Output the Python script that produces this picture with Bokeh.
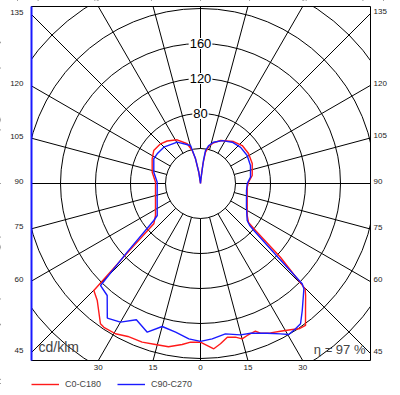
import numpy as np
from bokeh.plotting import figure
from bokeh.models import Label, Legend, LegendItem, Range1d
from bokeh.embed import file_html
from bokeh.resources import INLINE

# ---- data (cd/klm, gamma angle measured from nadir) ----
RINGS = [40, 80, 120, 160, 200, 240, 280, 320]
RING_LABELS = [80, 120, 160]
SPOKES = list(range(0, 360, 15))
SIDE_TICKS = [135, 120, 105, 90, 75, 60, 45]
BOTTOM_TICKS = [-30, -15, 0, 15, 30]

C0_GAMMA = [0, 1.2, 4.6, 7.1, 9.9, 12.8, 15, 17.1, 20.4, 21.8, 25.1, 28.4, 31.6, 34.1,
            36.5, 39.6, 43.2, 44.8, 47.3, 49.5, 50.9, 55.6, 70, 85.5, 91.6, 98.8,
            111.1, 122, 132.3, 141.8, 155, 162, 167, 171, 173, 175, 180]
C0_I = [181.4, 183.2, 189.5, 184.6, 178.3, 180.1, 183.8, 181.7, 180.1, 184.3, 188.5, 192,
        196.3, 200.5, 201.8, 188.3, 175.5, 169.7, 124.3, 82.7, 70.7, 64.7, 56.8, 53.6,
        54.9, 59.8, 63.4, 64.7, 64.5, 61.0, 54.2, 49.0, 44.0, 36.0, 22.0, 5.0, 0]

C180_GAMMA = [0, 3.6, 6.5, 11.1, 15.6, 20.2, 25.4, 29.5, 33.9, 35.5, 41.4, 44.9, 46.3,
              49.2, 54.6, 69.3, 79, 91.7, 103.2, 117, 125.2, 134.8, 141.9, 151.9,
              161.5, 165.9, 168.6, 171.4, 180]
C180_I = [181.4, 181.7, 185.2, 190.2, 191.0, 193.2, 193.5, 197.3, 198.0, 196.9, 178.4,
          172.7, 121.0, 70.5, 63.1, 55.0, 52.4, 51.4, 56.7, 62.0, 65.4, 64.4, 61.7,
          56.6, 47.9, 38.9, 28.8, 13.0, 0]

C90_GAMMA = [0, 4.3, 9.4, 14.8, 18.5, 24, 28, 30.3, 33.2, 35.5, 38.7, 44.5, 45.4, 46.4,
             48.6, 49.5, 51.6, 62.7, 81.3, 90, 97.2, 109.8, 121, 132, 142.5, 153,
             162.5, 168, 171.4, 172.6, 175, 180]
C90_I = [180.5, 178.0, 174.2, 178.9, 180.4, 187.3, 194.6, 199.9, 198.4, 196.9, 186.0,
         168.6, 163.2, 122.2, 82.0, 74.0, 68.1, 59.1, 53.2, 53.4, 57.6, 60.7, 62.2,
         61.7, 59.5, 55.0, 49.5, 44.0, 38.0, 26.5, 5.0, 0]

C270_GAMMA = [0, 4.3, 9.5, 15, 19.7, 25.2, 30, 34.7, 39.8, 44.4, 46.9, 51.6, 53.5, 68.6,
              91.7, 103.6, 117.9, 124.4, 134.7, 150.6, 165.3, 168.6, 171.4, 180]
C270_I = [180.5, 178.0, 172.3, 169.2, 180.5, 172.1, 183.0, 187.1, 166.6, 163.2, 114.8,
          68.1, 61.5, 53.2, 49.5, 54.9, 60.4, 60.0, 59.0, 54.2, 44.9, 28.8, 13.0, 0]

ETA_TEXT = "η = 97 %"
UNIT_TEXT = "cd/klm"
LEGEND_LABELS = ["C0-C180", "C90-C270"]

# ---- geometry ----
PX = 0.875                     # pixels per cd/klm
W, H = 395, 392                # canvas
CX, CY = 200, 183              # pole position on the canvas (px)
XR0, XR1 = -CX / PX, (W - CX) / PX
YR0, YR1 = -(H - CY) / PX, CY / PX
BX0, BX1 = -169 / PX, 170 / PX  # polar box
BY0, BY1 = -177 / PX, 177 / PX
FONT = "Liberation Sans"
RED = "#ff1a1a"
BLUE = "#1a1aff"

p = figure(width=W, height=H, output_backend="svg", toolbar_location=None,
           x_range=Range1d(XR0, XR1), y_range=Range1d(YR0, YR1),
           x_axis_type=None, y_axis_type=None,
           min_border_left=0, min_border_right=0, min_border_top=0, min_border_bottom=0)
p.outline_line_color = None
p.background_fill_color = "white"
p.border_fill_color = "white"

# rings
p.circle(x=[0] * len(RINGS), y=[0] * len(RINGS), radius=RINGS,
         fill_color=None, line_color="black", line_width=1)

# spokes (from first ring outward)
a = np.radians(SPOKES)
r0, r1 = RINGS[0], 600
p.segment(x0=r0 * np.sin(a), y0=-r0 * np.cos(a), x1=r1 * np.sin(a), y1=-r1 * np.cos(a),
          line_color="black", line_width=1)


def half(gamma, inten, side):
    g = np.radians(gamma)
    i = np.array(inten)
    return side * i * np.sin(g), -i * np.cos(g)


def curve(left_g, left_i, right_g, right_i):
    lx, ly = half(left_g, left_i, -1)
    rx, ry = half(right_g, right_i, 1)
    return np.concatenate([lx[::-1], rx]), np.concatenate([ly[::-1], ry])


rx, ry = curve(C180_GAMMA, C180_I, C0_GAMMA, C0_I)
bx, by = curve(C270_GAMMA, C270_I, C90_GAMMA, C90_I)
red_r = p.line(rx, ry, line_color=RED, line_width=1.4)
blue_r = p.line(bx, by, line_color=BLUE, line_width=1.4)

# white masks outside the polar box
p.quad(left=[XR0, BX1, BX0, BX0], right=[BX0, XR1, BX1, BX1],
       bottom=[YR0, YR0, BY1, YR0], top=[YR1, YR1, YR1, BY0],
       fill_color="white", line_color=None)
# box border, left edge blue
p.quad(left=BX0, right=BX1, bottom=BY0, top=BY1, fill_color=None,
       line_color="black", line_width=1)
p.segment(x0=[BX0], y0=[BY0], x1=[BX0], y1=[BY1], line_color=BLUE, line_width=2)

# ring labels
for v in RING_LABELS:
    p.add_layout(Label(x=0, y=v, text=str(v), text_align="center", text_baseline="middle",
                       text_font=FONT, text_font_size="13px", text_color="black",
                       background_fill_color="white", padding=1))

# spoke crossing labels
for t in SIDE_TICKS:
    g = np.radians(t)
    yl = -abs(BX0) / np.tan(g)
    yr = -abs(BX1) / np.tan(g)
    p.add_layout(Label(x=BX0, y=yl, text=str(t), text_align="right", text_baseline="middle",
                       x_offset=-8, y_offset=2, text_font=FONT, text_font_size="8px",
                       text_color="#222222"))
    p.add_layout(Label(x=BX1, y=yr, text=str(t), text_align="left", text_baseline="middle",
                       x_offset=3, y_offset=2, text_font=FONT, text_font_size="8px",
                       text_color="#222222"))

for t in BOTTOM_TICKS:
    xb = abs(BY0) * np.tan(np.radians(t))
    p.add_layout(Label(x=xb, y=BY0, text=str(abs(t)), text_align="center", text_baseline="top",
                       y_offset=-4, text_font=FONT, text_font_size="8px", text_color="#222222"))

p.add_layout(Label(x=BX0, y=BY0, text=UNIT_TEXT, text_align="left", text_baseline="bottom",
                   x_offset=7, y_offset=6, text_font=FONT, text_font_size="14px"))
p.add_layout(Label(x=BX1, y=BY0, text=ETA_TEXT, text_align="right", text_baseline="bottom",
                   x_offset=-5, y_offset=4, text_font=FONT, text_font_size="13px"))

legend = Legend(items=[LegendItem(label=LEGEND_LABELS[0], renderers=[red_r]),
                       LegendItem(label=LEGEND_LABELS[1], renderers=[blue_r])],
                location=(31, 3), orientation="horizontal", padding=0, margin=0,
                spacing=16, glyph_width=28, glyph_height=10, label_height=10,
                label_standoff=6, label_text_font=FONT, label_text_font_size="9px",
                background_fill_alpha=0, border_line_alpha=0)
p.add_layout(legend)

open("out.html", "w").write(file_html(p, INLINE))
